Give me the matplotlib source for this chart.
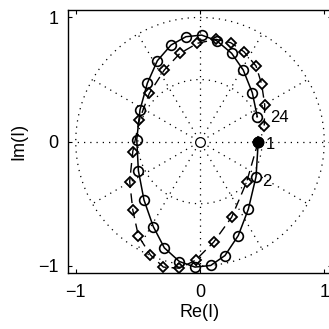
import numpy as np
import matplotlib
matplotlib.use('Agg')
import matplotlib.pyplot as plt

plt.rcParams['font.family'] = ['Liberation Sans', 'DejaVu Sans']

# solid curve with circles, points 1..24 (clockwise)
re_circ = [0.469, 0.451, 0.389, 0.308, 0.201, 0.086, -0.040, -0.166,
           -0.287, -0.376, -0.451, -0.496, -0.509, -0.483, -0.424, -0.343,
           -0.233, -0.113, 0.013, 0.134, 0.255, 0.348, 0.421, 0.461]
im_circ = [0.000, -0.282, -0.544, -0.756, -0.917, -0.997, -1.010, -0.965,
           -0.855, -0.684, -0.469, -0.233, 0.017, 0.255, 0.470, 0.652,
           0.778, 0.845, 0.858, 0.813, 0.711, 0.577, 0.394, 0.201]

# dashed curve with diamonds
re_diam = [0.469, 0.375, 0.255, 0.110, -0.036, -0.166, -0.295, -0.400,
           -0.496, -0.541, -0.566, -0.541, -0.488, -0.408, -0.287, -0.161,
           -0.021, 0.129, 0.247, 0.354, 0.451, 0.496, 0.521, 0.517]
im_diam = [0.000, -0.326, -0.608, -0.809, -0.955, -1.019, -1.010, -0.911,
           -0.759, -0.550, -0.322, -0.080, 0.175, 0.389, 0.577, 0.711,
           0.792, 0.824, 0.797, 0.724, 0.609, 0.464, 0.295, 0.130]

labels = ['1', '2', '24']
label_idx = [0, 1, 23]

fig = plt.figure(figsize=(3.29, 3.29), dpi=100)
ax = fig.add_axes([0.2076, 0.1693, 0.8006, 0.8003])

# polar grid
dot = (0, (1, 4))
th = np.linspace(0, 2 * np.pi, 361)
for r in [0.5, 1.0]:
    ax.plot(r * np.cos(th), r * np.sin(th), color='k', lw=0.9, ls=dot)
for a in np.arange(0, 360, 30):
    t = np.deg2rad(a)
    ax.plot([0.07 * np.cos(t), np.cos(t)], [0.07 * np.sin(t), np.sin(t)],
            color='k', lw=0.9, ls=dot)
ax.plot([0], [0], 'o', mfc='none', mec='k', ms=7, mew=0.9)

ax.plot(re_diam, im_diam, color='k', lw=1.0, ls=(0, (7, 4)),
        marker='D', ms=5, mfc='none', mec='k', mew=1.3)
ax.plot(re_circ, im_circ, color='k', lw=1.1, ls='-',
        marker='o', ms=7, mfc='none', mec='k', mew=1.2)
ax.plot(re_circ[0], im_circ[0], 'o', color='k', ms=7.5, zorder=5)

offs = [(0.06, -0.02), (0.05, -0.04), (0.10, -0.01)]
for lab, i, (dx, dy) in zip(labels, label_idx, offs):
    ax.text(re_circ[i] + dx, im_circ[i] + dy, lab, fontsize=12,
            ha='left', va='center')

ax.set_xlim(-1.06, 1.06)
ax.set_ylim(-1.06, 1.06)
ax.set_xticks([-1, 0, 1])
ax.set_yticks([-1, 0, 1])
ax.set_xticklabels(['\u22121', '0', '1'])
ax.set_yticklabels(['\u22121', '0', '1'])
ax.tick_params(axis='x', pad=8)
ax.tick_params(direction='in', length=3, width=0.8, labelsize=13,
               top=True, right=True)
ax.tick_params(axis='y', pad=7)
for s in ax.spines.values():
    s.set_linewidth(1.0)
ax.set_xlabel('Re(I)', fontsize=13, labelpad=2)
ax.set_ylabel('Im(I)', fontsize=13, labelpad=8)

fig.savefig('out.png', dpi=100)
